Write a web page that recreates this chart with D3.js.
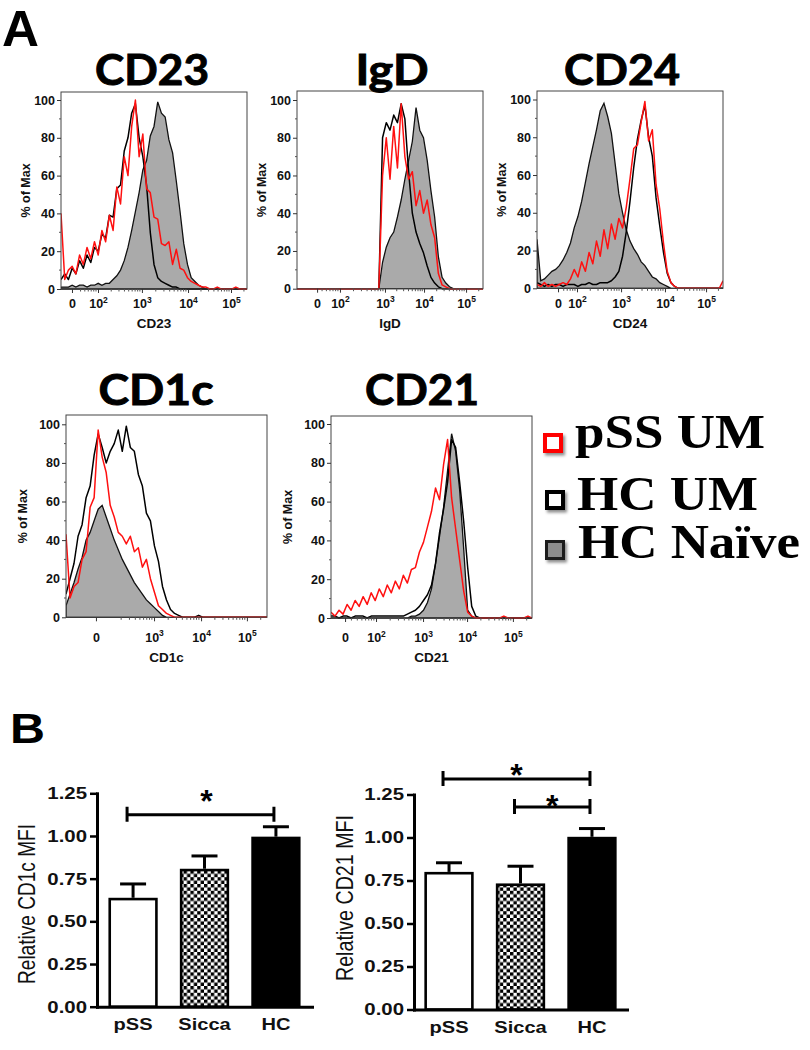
<!DOCTYPE html>
<html>
<head>
<meta charset="utf-8">
<script src="https://cdn.jsdelivr.net/npm/d3@7/dist/d3.min.js"></script>
<style>
  html,body{margin:0;padding:0;background:#fff;}
  svg{display:block;}
  text{font-family:"Liberation Sans",Arial,sans-serif;}
</style>
</head>
<body>
<svg id="fig" width="810" height="1050" xmlns="http://www.w3.org/2000/svg"></svg>
<script>
// ===================== DATA =====================
// Panel A: flow cytometry overlays, "% of Max", one value every 2 display channels (axis = 0..100 display units)
const histTitles = ["CD23", "IgD", "CD24", "CD1c", "CD21"];
const legendLabels = ["pSS UM", "HC UM", "HC Naïve"];
const binStep = 2;
const yTicksHist = [0, 20, 40, 60, 80, 100];
const yMinorHist = [10, 30, 50, 70, 90];
const tickLabelsStd = ["0", "10^2", "10^3", "10^4", "10^5"];
const tickLabelsCD1c = ["0", "10^3", "10^4", "10^5"];
// display-channel position of each logicle tick label
const tickPosCD23 = [5.9, 19.9, 43.5, 68.3, 91.4];
const tickPosIgD  = [10.8, 23.1, 47.3, 68.3, 90.9];
const tickPosCD24 = [11.3, 21.5, 45.2, 68.8, 90.9];
const tickPosCD1c = [14.9, 43.8, 67.2, 90.0];
const tickPosCD21 = [7.0, 22.4, 45.8, 67.7, 90.5];

const cd23Naive = [1,1,1,2,1,2,2,1,2,2, 3,2,3,3,5,7,10,15,22,31, 41,51,63,68,81,86,99,93,91,79, 72,57,41,24,13,6,4,2,1,0, 0,0,0,0,0,0,0,0,0,0, 0];
const cd23HCUM  = [5,8,5,11,8,15,11,18,14,22, 20,29,27,39,38,53,55,73,80,93, 98,80,70,55,30,13,6,4,3,2, 1,1,0,0,0,0,0,0,0,0, 0,0,0,0,0,0,0,0,0,0, 0];
const cd23PSS   = [40,5,10,12,8,18,13,22,16,25, 18,31,25,39,31,54,45,70,60,86, 100,70,82,53,51,38,37,24,23,25, 13,21,11,10,6,4,3,2,1,1, 0,0,1,0,0,0,0,1,0,0, 0];

const igdNaive  = [0,0,0,0,0,0,0,0,0,0, 0,0,0,0,0,0,0,0,0,0, 0,0,0,14,22,27,30,38,47,58, 68,78,96,84,80,68,52,38,17,6, 3,1,0,0,0,0,0,0,0,0, 0];
const igdHCUM   = [0,0,0,0,0,0,0,0,0,0, 0,0,0,0,0,0,0,0,0,0, 0,0,0,80,88,84,92,88,98,90, 62,40,30,24,19,12,6,3,1,0, 0,0,0,0,0,0,0,0,0,0, 0];
const igdPSS    = [0,0,0,0,0,0,0,0,0,0, 0,0,0,0,0,0,0,0,0,0, 0,0,0,60,80,58,86,64,98,70, 58,62,44,52,40,47,34,27,8,2, 1,0,0,0,0,0,0,0,0,0, 0];

const cd24Naive = [26,4,5,7,9,10,12,15,19,24, 32,38,46,56,66,75,84,94,98,91, 82,66,50,40,31,25,21,18,14,12, 9,6,5,3,2,1,0,0,0,0, 0,0,0,0,0,0,0,0,0,0, 0];
const cd24HCUM  = [3,2,1,2,1,2,2,1,2,2, 2,1,2,2,3,2,2,3,3,3, 4,6,9,17,30,46,64,79,89,97, 80,70,48,33,19,8,3,1,0,0, 0,0,0,0,0,0,0,0,0,0, 0];
const cd24PSS   = [2,1,3,1,2,1,2,3,2,5, 10,6,14,9,19,13,25,17,31,21, 34,26,37,32,43,58,74,76,88,99, 78,84,55,42,24,9,3,1,0,0, 0,0,0,0,0,0,0,0,0,0, 4];

const cd1cNaive = [6,12,18,25,31,40,44,50,56,58, 52,46,40,35,30,26,22,18,15,12, 9,7,5,3,1,0,0,0,0,0, 0,0,0,0,0,0,0,0,0,0, 0,0,0,0,0,0,0,0,0,0, 0];
const cd1cHCUM  = [12,20,28,42,48,62,68,84,95,88, 80,86,90,97,86,99,88,86,74,68, 54,50,37,29,16,9,4,2,1,0, 0,0,0,1,0,0,0,0,0,0, 0,0,0,0,0,0,0,0,0,0, 0];
const cd1cPSS   = [43,10,16,18,30,34,57,62,97,83, 75,58,52,44,42,38,42,34,36,26, 30,20,13,6,4,2,1,0,0,0, 0,0,0,0,0,0,0,0,0,0, 0,0,0,0,0,0,0,0,0,0, 0];

const cd21Naive = [0,0,0,0,0,0,0,0,0,0, 0,0,0,0,0,0,0,0,0,0, 1,1,2,4,8,15,28,42,57,76, 95,86,66,36,4,1,0,0,0,0, 0,0,0,0,0,0,0,0,0,0, 0];
const cd21HCUM  = [1,1,0,1,1,0,1,1,1,0, 1,1,1,1,1,1,1,1,1,2, 3,4,6,9,12,17,28,44,56,70, 92,88,70,50,26,6,1,0,0,0, 0,0,0,0,0,0,0,0,0,0, 0];
const cd21PSS   = [3,1,4,2,7,4,9,6,11,7, 13,9,15,11,17,13,19,15,22,18, 25,26,34,39,47,55,67,61,79,92, 62,46,30,14,3,1,0,0,0,0, 0,0,0,1,0,0,0,0,0,1, 0];

// Panel B: relative MFI (mean, SEM)
const groups = ["pSS", "Sicca", "HC"];
const barYTicks = [0, 0.25, 0.5, 0.75, 1.0, 1.25];
const cd1cMFI = [0.638, 0.808, 0.996];
const cd1cSEM = [0.081, 0.075, 0.058];
const cd21MFI = [0.800, 0.733, 1.004];
const cd21SEM = [0.053, 0.100, 0.048];
// significance brackets: [from, to, bracket height in MFI units]
const cd1cSig = [["pSS", "HC", 1.125]];
const cd21Sig = [["pSS", "HC", 1.34], ["Sicca", "HC", 1.177]];

// ===================== DRAWING =====================
const svg = d3.select("#fig");
const defs = svg.append("defs");
const pat = defs.append("pattern").attr("id", "checker").attr("patternUnits", "userSpaceOnUse")
  .attr("width", 6.8).attr("height", 6.8);
pat.append("rect").attr("width", 6.8).attr("height", 6.8).attr("fill", "#fff");
pat.append("rect").attr("width", 3.4).attr("height", 3.4).attr("fill", "#000");
pat.append("rect").attr("x", 3.4).attr("y", 3.4).attr("width", 3.4).attr("height", 3.4).attr("fill", "#000");
const flt = defs.append("filter").attr("id", "shadow").attr("x", "-40%").attr("y", "-40%").attr("width", "190%").attr("height", "190%");
flt.append("feDropShadow").attr("dx", 2).attr("dy", 2.5).attr("stdDeviation", 1.6)
  .attr("flood-color", "#000").attr("flood-opacity", 0.45);

function stretch(sel, sx) {
  sel.each(function () {
    const t = d3.select(this);
    const x = +(t.attr("x") || 0);
    t.attr("x", x / sx).attr("transform", (t.attr("transform") || "") + ` scale(${sx},1)`);
  });
}

// panel letters
svg.append("text").attr("x", 2).attr("y", 46).attr("font-size", 50).attr("font-weight", "bold")
  .attr("textLength", 37).attr("lengthAdjust", "spacingAndGlyphs").text("A");
svg.append("text").attr("x", 10).attr("y", 743).attr("font-size", 42).attr("font-weight", "bold")
  .attr("textLength", 35).attr("lengthAdjust", "spacingAndGlyphs").text("B");

const layoutA = [
  { x0: 61,  x1: 247, top: 92,  y0: 289,   y100: 100,   tp: tickPosCD23, tl: tickLabelsStd,  data: [cd23Naive, cd23HCUM, cd23PSS], tx: 152, ty: 85,  tw: 114, ylx: 26,  tickY: 308, xlY: 328 },
  { x0: 297, x1: 483, top: 91,  y0: 288.7, y100: 100,   tp: tickPosIgD,  tl: tickLabelsStd,  data: [igdNaive, igdHCUM, igdPSS],    tx: 392, ty: 85,  tw: 73,  ylx: 262, tickY: 308, xlY: 328 },
  { x0: 537, x1: 723, top: 91,  y0: 288.3, y100: 99.5,  tp: tickPosCD24, tl: tickLabelsStd,  data: [cd24Naive, cd24HCUM, cd24PSS], tx: 622, ty: 85,  tw: 116, ylx: 502, tickY: 308, xlY: 328 },
  { x0: 66,  x1: 267, top: 415, y0: 617.3, y100: 424.3, tp: tickPosCD1c, tl: tickLabelsCD1c, data: [cd1cNaive, cd1cHCUM, cd1cPSS], tx: 156, ty: 405, tw: 115, ylx: 23,  tickY: 642, xlY: 662 },
  { x0: 331, x1: 532, top: 416, y0: 618,   y100: 424,   tp: tickPosCD21, tl: tickLabelsStd,  data: [cd21Naive, cd21HCUM, cd21PSS], tx: 422, ty: 405, tw: 114, ylx: 288, tickY: 642, xlY: 662 }
];

function minorTicks(tp, tl) {
  const out = [];
  for (let k = 0; k < tl.length; k++) {
    if (!tl[k].startsWith("10^")) continue;
    const span = (k + 1 < tl.length) ? tp[k + 1] - tp[k] : tp[k] - tp[k - 1];
    for (let m = 2; m <= 9; m++) {
      const c = tp[k] + Math.log10(m) * span;
      if (c < 100) out.push(c);
      if (k > 0 && !tl[k - 1].startsWith("10^")) {
        const cl = tp[k] - (1 - Math.log10(m)) * span;
        if (cl > tp[k - 1] + 2) out.push(cl);
      }
    }
  }
  return out;
}

layoutA.forEach((p, idx) => {
  const g = svg.append("g");
  const x = d3.scaleLinear().domain([0, 100]).range([p.x0, p.x1]);
  const y = d3.scaleLinear().domain([0, 100]).range([p.y0, p.y100]);
  const cid = "clip" + idx;
  defs.append("clipPath").attr("id", cid).append("rect")
    .attr("x", p.x0).attr("y", p.top).attr("width", p.x1 - p.x0).attr("height", p.y0 - p.top + 1.5);
  const plot = g.append("g").attr("clip-path", `url(#${cid})`);
  const xi = (d, i) => x(i * binStep);
  plot.append("path").datum(p.data[0])
    .attr("d", d3.area().x(xi).y0(y(0)).y1(d => y(d)))
    .attr("fill", "#aaaaaa").attr("stroke", "#111").attr("stroke-width", 1.3);
  plot.append("path").datum(p.data[1])
    .attr("d", d3.line().x(xi).y(d => y(d)))
    .attr("fill", "none").attr("stroke", "#000").attr("stroke-width", 1.5).attr("stroke-linejoin", "round");
  plot.append("path").datum(p.data[2])
    .attr("d", d3.line().x(xi).y(d => y(d)))
    .attr("fill", "none").attr("stroke", "#ff1010").attr("stroke-width", 1.5).attr("stroke-linejoin", "round");

  g.append("rect").attr("x", p.x0).attr("y", p.top).attr("width", p.x1 - p.x0).attr("height", p.y0 - p.top)
    .attr("fill", "none").attr("stroke", "#444").attr("stroke-width", 1);

  // y axis
  const ya = g.append("g").attr("transform", `translate(${p.x0},0)`)
    .call(d3.axisLeft(y).tickValues(yTicksHist).tickSize(4).tickPadding(2));
  ya.select(".domain").remove();
  ya.selectAll("text").attr("font-size", 12.5).attr("font-weight", "bold").attr("fill", "#111");
  ya.selectAll(".tick line").attr("stroke", "#333");
  g.append("g").selectAll("line").data(yMinorHist).join("line")
    .attr("x1", p.x0 - 2).attr("x2", p.x0).attr("y1", d => y(d)).attr("y2", d => y(d)).attr("stroke", "#555");

  // x axis (logicle labels)
  const xa = g.append("g").attr("transform", `translate(0,${p.y0})`)
    .call(d3.axisBottom(x).tickValues(p.tp).tickSize(4).tickFormat((d, i) => p.tl[i]));
  xa.select(".domain").remove();
  xa.selectAll(".tick line").attr("stroke", "#333");
  xa.selectAll(".tick text").each(function (d, i) {
    const lab = p.tl[i];
    const t = d3.select(this);
    t.text(null).attr("y", p.tickY - p.y0).attr("dy", 0)
      .attr("font-size", 12.5).attr("font-weight", "bold").attr("fill", "#111");
    if (lab.includes("^")) {
      const parts = lab.split("^");
      t.append("tspan").text(parts[0]);
      t.append("tspan").attr("dy", -5.5).attr("font-size", 8.5).text(parts[1]);
    } else {
      t.text(lab);
    }
  });
  g.append("g").selectAll("line").data(minorTicks(p.tp, p.tl)).join("line")
    .attr("x1", d => x(d)).attr("x2", d => x(d)).attr("y1", p.y0).attr("y2", p.y0 + 2.5).attr("stroke", "#555");

  // titles
  g.append("text").attr("x", p.tx).attr("y", p.ty).attr("text-anchor", "middle")
    .style("font-family", "Lato, 'Open Sans', sans-serif").attr("font-weight", "bold").attr("font-size", 42)
    .attr("stroke", "#000").attr("stroke-width", 0.9)
    .attr("textLength", p.tw).attr("lengthAdjust", "spacingAndGlyphs").text(histTitles[idx]);
  g.append("text").attr("x", (p.x0 + p.x1) / 2).attr("y", p.xlY).attr("text-anchor", "middle")
    .attr("font-size", 13.5).attr("font-weight", "bold").attr("fill", "#111").text(histTitles[idx]);
  g.append("text").attr("transform", `translate(${p.ylx},${(p.top + p.y0) / 2}) rotate(-90)`)
    .attr("text-anchor", "middle").attr("dy", "0.35em")
    .attr("font-size", 12.5).attr("font-weight", "bold").attr("fill", "#111").text("% of Max");
});

// legend
const legendBox = [
  { stroke: "#ff0000", fill: "#fff", sw: 4, x: 545, y: 435, s: 16, tx: 575, ty: 448, tw: 190 },
  { stroke: "#000",    fill: "#fff", sw: 4, x: 547, y: 492, s: 16, tx: 577, ty: 510, tw: 181 },
  { stroke: "#1a1a1a", fill: "#8c8c8c", sw: 3, x: 546.5, y: 541.5, s: 17, tx: 578, ty: 558, tw: 222 }
];
legendLabels.forEach((lab, i) => {
  const L = legendBox[i];
  svg.append("rect").attr("x", L.x).attr("y", L.y).attr("width", L.s).attr("height", L.s)
    .attr("fill", L.fill).attr("stroke", L.stroke).attr("stroke-width", L.sw).attr("filter", "url(#shadow)");
  svg.append("text").attr("x", L.tx).attr("y", L.ty)
    .style("font-family", "'Liberation Serif', 'Times New Roman', serif").attr("font-weight", "bold").attr("font-size", 48)
    .attr("textLength", L.tw).attr("lengthAdjust", "spacingAndGlyphs").text(lab);
});

// ---------- Panel B ----------
function barChart(L, values, sems, sigs, title) {
  const x = d3.scaleBand().domain(groups).range([L.x0, L.x1]).paddingInner(0.31).paddingOuter(L.po);
  const y = d3.scaleLinear().domain([0, 1.25]).range([L.yb, L.yt]);
  const g = svg.append("g");
  const fills = { pSS: "#fff", Sicca: "url(#checker)", HC: "#000" };
  const bw = x.bandwidth();

  g.selectAll("rect.bar").data(groups).join("rect").attr("class", "bar")
    .attr("x", d => x(d) + 1.3).attr("width", bw - 2.6)
    .attr("y", (d, i) => y(values[i]) + 1.3).attr("height", (d, i) => y(0) - y(values[i]) - 1.3)
    .attr("fill", d => fills[d]).attr("stroke", "#000").attr("stroke-width", 2.6);

  groups.forEach((d, i) => {
    const cx = x(d) + bw / 2, yt = y(values[i] + sems[i]);
    g.append("line").attr("x1", cx).attr("x2", cx).attr("y1", y(values[i])).attr("y2", yt)
      .attr("stroke", "#000").attr("stroke-width", 3);
    g.append("line").attr("x1", cx - 13).attr("x2", cx + 13).attr("y1", yt).attr("y2", yt)
      .attr("stroke", "#000").attr("stroke-width", 3);
  });

  const ya = g.append("g").attr("transform", `translate(${L.x0},0)`)
    .call(d3.axisLeft(y).tickValues(barYTicks).tickFormat(d3.format(".2f")).tickSize(7).tickSizeOuter(0).tickPadding(3));
  ya.select(".domain").attr("stroke-width", 3).attr("stroke-linecap", "square");
  ya.selectAll(".tick line").attr("stroke-width", 2.5);
  ya.selectAll("text").attr("font-size", 17).attr("font-weight", "bold").attr("fill", "#111");
  stretch(ya.selectAll("text"), 1.2);

  const xa = g.append("g").attr("transform", `translate(0,${L.yb})`)
    .call(d3.axisBottom(x).tickSize(0).tickSizeOuter(0).tickPadding(11));
  xa.select(".domain").attr("stroke-width", 3).attr("stroke-linecap", "square");
  xa.selectAll("text").attr("font-size", 17).attr("font-weight", "bold").attr("fill", "#111");
  stretch(xa.selectAll("text"), 1.18);

  svg.append("text").attr("transform", `translate(${L.titleX},${L.titleY}) rotate(-90) scale(1,1.2)`)
    .attr("text-anchor", "middle").attr("dy", "0.35em").attr("font-size", 19.5).attr("fill", "#111")
    .attr("textLength", L.titleLen).attr("lengthAdjust", "spacingAndGlyphs").text(title);

  sigs.forEach((s, k) => {
    const xa_ = x(s[0]) + bw / 2 - 6, xb_ = x(s[1]) + bw / 2 - 2, yy = y(s[2]);
    g.append("path")
      .attr("d", `M${xa_},${yy - 8}V${yy + 7}M${xa_},${yy}H${xb_}M${xb_},${yy - 8}V${yy + 7}`)
      .attr("stroke", "#000").attr("stroke-width", 3).attr("fill", "none");
    g.append("text").attr("x", (xa_ + xb_) / 2 + L.starDx[k]).attr("y", yy - L.starUp[k] + 0.58 * 32)
      .attr("text-anchor", "middle").attr("font-size", 32).attr("font-weight", "bold").text("*");
  });
}

barChart({ x0: 97, x1: 312, po: 0.16, yb: 1006.7, yt: 793.3, titleX: 27, titleY: 904, titleLen: 160, starUp: [21], starDx: [6] },
  cd1cMFI, cd1cSEM, cd1cSig, "Relative CD1c MFI");
barChart({ x0: 414, x1: 627, po: 0.145, yb: 1009.5, yt: 794.5, titleX: 345, titleY: 898, titleLen: 166, starUp: [12, 9], starDx: [0, 0] },
  cd21MFI, cd21SEM, cd21Sig, "Relative CD21 MFI");
</script>
</body>
</html>
